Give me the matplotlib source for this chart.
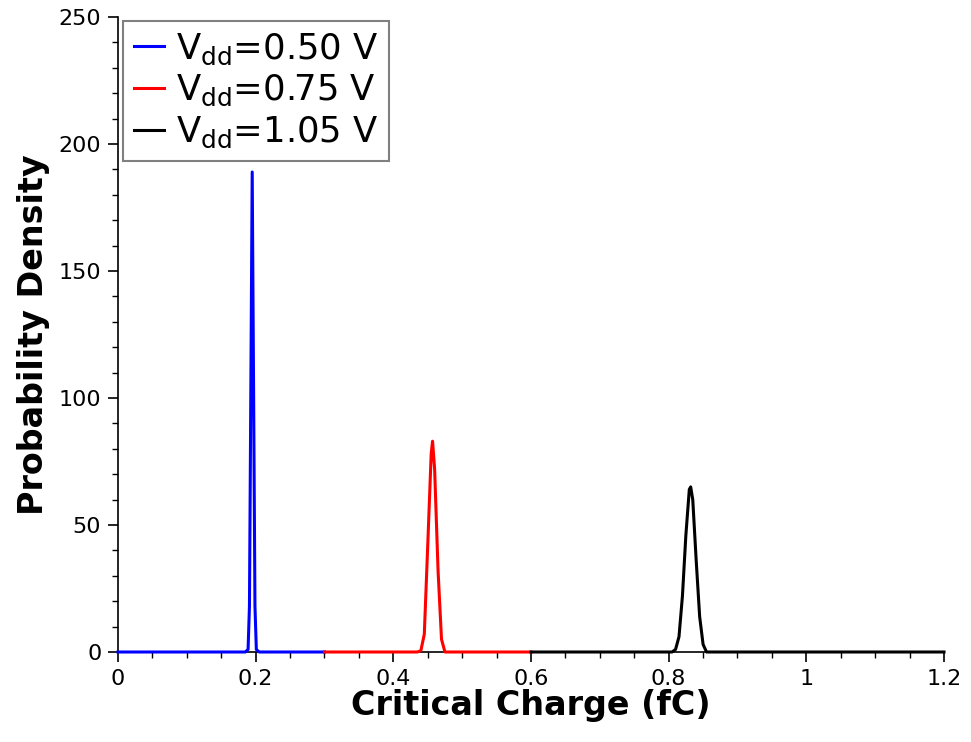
import numpy as np
import matplotlib
matplotlib.use("Agg")
import matplotlib.pyplot as plt
from matplotlib.ticker import MultipleLocator, FormatStrFormatter

# Critical charge (fC) vs probability density
q_050 = [0.0, 0.185, 0.189, 0.191, 0.195, 0.199, 0.201, 0.205, 0.3]
p_050 = [0.0, 0.0, 1.0, 18.0, 189.0, 18.0, 1.0, 0.0, 0.0]

q_075 = [0.3, 0.435, 0.440, 0.445, 0.450, 0.455, 0.457, 0.460, 0.465, 0.470, 0.475, 0.6]
p_075 = [0.0, 0.0, 0.5, 7.0, 42.0, 78.0, 83.0, 72.0, 32.0, 5.0, 0.0, 0.0]

q_105 = [0.6, 0.805, 0.810, 0.815, 0.820, 0.825, 0.830, 0.832, 0.835, 0.840, 0.845, 0.850, 0.855, 1.2]
p_105 = [0.0, 0.0, 1.0, 6.0, 22.0, 46.0, 64.0, 65.0, 60.0, 36.0, 14.0, 3.0, 0.0, 0.0]

labels = ["V$_{\\mathregular{dd}}$=0.50 V", "V$_{\\mathregular{dd}}$=0.75 V", "V$_{\\mathregular{dd}}$=1.05 V"]
colors = ["#0000ff", "#ff0000", "#000000"]

fig = plt.figure(figsize=(9.71, 7.42), dpi=100)
ax = fig.add_axes([0.1215, 0.1213, 0.8507, 0.8557])

for q, p, lab, c in zip([q_050, q_075, q_105], [p_050, p_075, p_105], labels, colors):
    ax.plot(q, p, color=c, lw=2.2, label=lab, clip_on=False, zorder=3)

ax.set_xlim(0, 1.2)
ax.set_ylim(0, 250)
ax.spines["top"].set_visible(False)
ax.spines["right"].set_visible(False)
ax.spines["left"].set_linewidth(1.2)
ax.spines["bottom"].set_linewidth(1.2)

ax.xaxis.set_major_locator(MultipleLocator(0.2))
ax.xaxis.set_minor_locator(MultipleLocator(0.05))
ax.yaxis.set_major_locator(MultipleLocator(50))
ax.yaxis.set_minor_locator(MultipleLocator(10))
ax.xaxis.set_major_formatter(FormatStrFormatter("%g"))
ax.tick_params(which="major", direction="out", length=7, width=1.2, labelsize=16, pad=5)
ax.tick_params(which="minor", direction="out", length=4, width=1.0)

ax.set_xlabel("Critical Charge (fC)", fontsize=24, fontweight="bold", labelpad=0)
ax.set_ylabel("Probability Density", fontsize=24, fontweight="bold", labelpad=6)

leg = ax.legend(loc="upper left", fontsize=25.5, handlelength=0.85, handletextpad=0.35,
                borderpad=0.3, labelspacing=0.18, fancybox=False, framealpha=1,
                borderaxespad=0, bbox_to_anchor=(0.006, 0.994))
leg.get_frame().set_edgecolor("#808080")
leg.get_frame().set_linewidth(1.5)

fig.savefig("out.png", dpi=100)
